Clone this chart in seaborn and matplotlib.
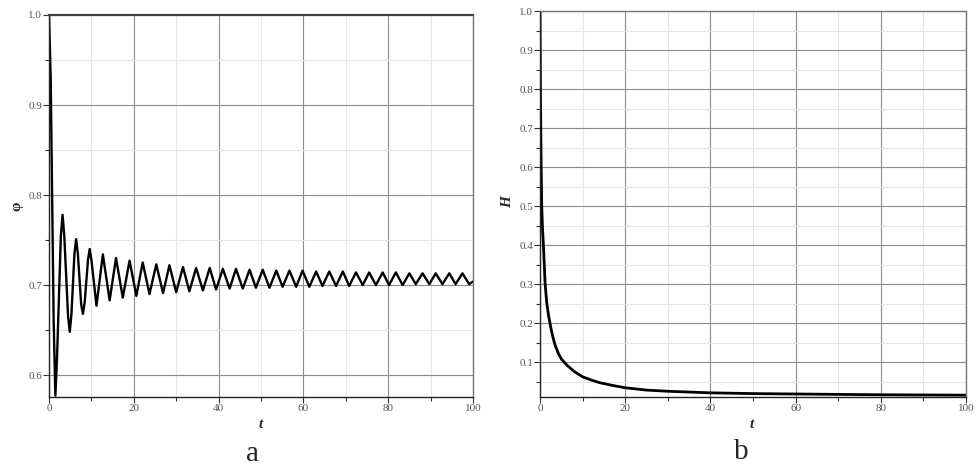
import numpy as np
import pandas as pd
import seaborn as sns
from matplotlib import pyplot as plt
from matplotlib.ticker import MultipleLocator

# ---- dados ----
# painel a: extremos da oscilacao de phi(t)
phi_inicio = (0.0, 1.0)
phi_fim = (100.0, 0.704)
t_picos = [3.2, 6.4, 9.6, 12.7, 15.8, 19.0, 22.1, 25.3, 28.4, 31.6, 34.7,
           37.9, 41.0, 44.1, 47.3, 50.4, 53.6, 56.7, 59.8, 63.0, 66.1, 69.3,
           72.4, 75.5, 78.7, 81.8, 85.0, 88.1, 91.2, 94.4, 97.5]
phi_picos = [0.778, 0.751, 0.740, 0.734, 0.730, 0.727, 0.725, 0.723, 0.722,
             0.720, 0.719, 0.719, 0.718, 0.718, 0.717, 0.717, 0.716, 0.716,
             0.716, 0.715, 0.715, 0.715, 0.714, 0.714, 0.714, 0.714, 0.713,
             0.713, 0.713, 0.713, 0.713]
t_vales = [1.5, 4.9, 8.0, 11.2, 14.3, 17.4, 20.6, 23.7, 26.9, 30.0, 33.1,
           36.3, 39.4, 42.6, 45.7, 48.8, 52.0, 55.1, 58.3, 61.4, 64.5, 67.7,
           70.8, 74.0, 77.1, 80.2, 83.4, 86.5, 89.7, 92.8, 95.9, 99.1]
phi_vales = [0.577, 0.648, 0.668, 0.677, 0.683, 0.686, 0.688, 0.690, 0.691,
             0.692, 0.693, 0.694, 0.695, 0.696, 0.696, 0.697, 0.697, 0.698,
             0.698, 0.698, 0.699, 0.699, 0.699, 0.700, 0.700, 0.700, 0.700,
             0.701, 0.701, 0.701, 0.701, 0.701]
t_ombros = [0.4, 1.1, 1.9, 2.8, 3.6, 4.5, 5.3, 6.0, 6.8, 7.6, 8.4, 9.2, 10.0]
phi_ombros = [0.93, 0.66, 0.62, 0.755, 0.755, 0.665, 0.668, 0.735, 0.735,
              0.678, 0.68, 0.728, 0.728]

# painel b: H(t)
t_H = [0, 0.05, 0.1, 0.2, 0.3, 0.4, 0.6, 0.8, 1.0, 1.2, 1.6, 2.0, 2.5, 3.0,
       3.5, 4.3, 5, 6.3, 8, 10, 12, 14, 17, 20, 25, 30, 35, 40, 50, 60, 70,
       80, 90, 100]
H = [1.0, 0.9, 0.8, 0.68, 0.58, 0.5, 0.44, 0.4, 0.35, 0.3, 0.25, 0.22, 0.19,
     0.165, 0.145, 0.122, 0.108, 0.092, 0.076, 0.062, 0.054, 0.047, 0.04,
     0.034, 0.028, 0.025, 0.023, 0.021, 0.019, 0.018, 0.017, 0.016, 0.0155,
     0.015]

# montagem dos dataframes
df_phi = pd.DataFrame({
    't': [phi_inicio[0]] + t_picos + t_vales + t_ombros + [phi_fim[0]],
    'phi': [phi_inicio[1]] + phi_picos + phi_vales + phi_ombros + [phi_fim[1]],
}).sort_values('t')
df_H = pd.DataFrame({'t': t_H, 'H': H})

sns.set_style('white')
plt.rcParams['font.family'] = ['Liberation Serif', 'DejaVu Serif']

fig = plt.figure(figsize=(9.78, 4.70), dpi=100)
ax_a = fig.add_axes([49 / 978, 1 - 397 / 470, 424 / 978, 382 / 470])
ax_b = fig.add_axes([540 / 978, 1 - 397 / 470, 426 / 978, 386 / 470])

sns.lineplot(data=df_phi, x='t', y='phi', ax=ax_a, color='black',
             linewidth=1.7, sort=False, solid_joinstyle='round')
sns.lineplot(data=df_H, x='t', y='H', ax=ax_b, color='black',
             linewidth=2.0, sort=False, solid_joinstyle='round')


def estilo(ax, ymin, ymax, ymaj, ymin_step):
    ax.set_xlim(0, 100)
    ax.set_ylim(ymin, ymax)
    ax.xaxis.set_major_locator(MultipleLocator(20))
    ax.xaxis.set_minor_locator(MultipleLocator(10))
    ax.yaxis.set_major_locator(MultipleLocator(ymaj))
    ax.yaxis.set_minor_locator(MultipleLocator(ymin_step))
    ax.grid(which='major', color='#8c8c8c', linewidth=0.8)
    ax.grid(which='minor', color='#e6e6e6', linewidth=0.8)
    ax.set_axisbelow(True)
    ax.tick_params(which='both', direction='out', length=4, width=0.8,
                   colors='#333333', labelcolor='#555555', labelsize=8,
                   pad=1, bottom=True, left=True)
    ax.tick_params(which='minor', length=3)
    for lado in ['left', 'bottom']:
        ax.spines[lado].set_color('#222222')
        ax.spines[lado].set_linewidth(1.0)
    for lado in ['top', 'right']:
        ax.spines[lado].set_color('#777777')
        ax.spines[lado].set_linewidth(1.0)
    ax.set_xlabel('')
    ax.set_ylabel('')
    ax.yaxis.set_major_formatter(plt.FuncFormatter(lambda v, p: f'{v:.1f}'))


estilo(ax_a, 0.5756, 1.0, 0.1, 0.05)
estilo(ax_b, 0.0103, 1.0, 0.1, 0.05)
ax_a.spines['top'].set_color('#444444')
ax_a.spines['top'].set_linewidth(1.6)

# rotulos dos eixos e letras dos paineis
fig.text(261 / 978, 1 - 424 / 470, 't', ha='center', va='center',
         fontsize=11, fontweight='bold', fontstyle='italic')
fig.text(752 / 978, 1 - 424 / 470, 't', ha='center', va='center',
         fontsize=11, fontweight='bold', fontstyle='italic')
fig.text(17 / 978, 1 - 206 / 470, 'φ', ha='center', va='center',
         fontsize=11, fontweight='bold', rotation=90)
fig.text(508 / 978, 1 - 202 / 470, 'H', ha='center', va='center',
         fontsize=11, fontweight='bold', fontstyle='italic', rotation=90)
fig.text(253 / 978, 1 - 454 / 470, 'a', ha='center', va='center',
         fontsize=21)
fig.text(741 / 978, 1 - 452 / 470, 'b', ha='center', va='center',
         fontsize=21)

fig.savefig('out.png', dpi=100, facecolor='white')
